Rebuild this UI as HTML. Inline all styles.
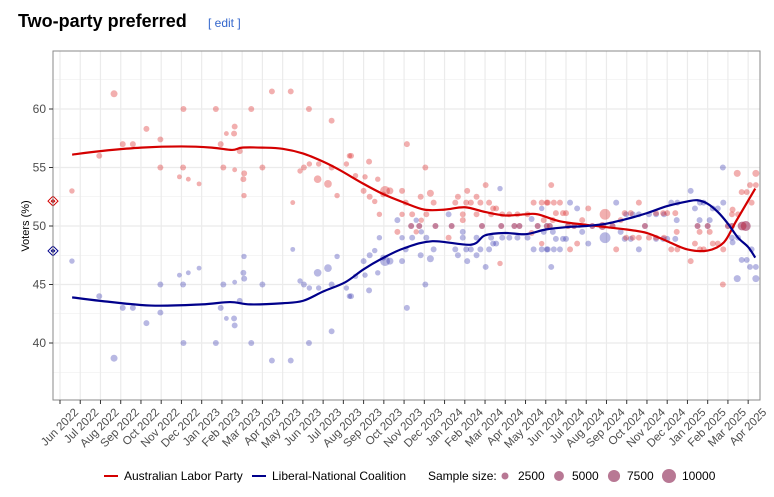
<!DOCTYPE html>
<html><head><meta charset="utf-8"><style>
body{margin:0;background:#fff;font-family:"Liberation Sans",sans-serif;}
#wrap{position:relative;width:774px;height:497px;overflow:hidden}
</style></head><body>
<div id="wrap">
<svg id="chart" width="774" height="497" xmlns="http://www.w3.org/2000/svg">
<text x="18" y="27" font-size="18" font-weight="bold" fill="#000" font-family="Liberation Sans, sans-serif">Two-party preferred</text>
<text x="208" y="27" font-size="12" fill="#3366cc" font-family="Liberation Sans, sans-serif">[ edit ]</text>
<g id="grid"></g>
<g id="pts"></g>
<g id="lines"></g>
<rect x="53" y="51" width="707" height="349" fill="none" stroke="#8a8a8a" stroke-width="1"/>
<g id="axes"></g>
<text transform="translate(29,226) rotate(-90)" text-anchor="middle" font-size="11" fill="#000">Voters (%)</text>
<g id="legend"></g>
</svg>
</div>
<script>
const months=["Jun 2022","Jul 2022","Aug 2022","Sep 2022","Oct 2022","Nov 2022","Dec 2022","Jan 2023","Feb 2023","Mar 2023","Apr 2023","May 2023","Jun 2023","Jul 2023","Aug 2023","Sep 2023","Oct 2023","Nov 2023","Dec 2023","Jan 2024","Feb 2024","Mar 2024","Apr 2024","May 2024","Jun 2024","Jul 2024","Aug 2024","Sep 2024","Oct 2024","Nov 2024","Dec 2024","Jan 2025","Feb 2025","Mar 2025","Apr 2025"];
const yTicks=[40,45,50,55,60];
const pollMonth=[0.59,2.67,1.94,3.1,3.6,4.27,4.96,4.96,6.1,6.08,5.9,6.34,6.87,7.7,7.94,8.07,8.22,8.63,8.6,8.63,8.88,9.1,9.06,9.09,9.45,10.0,10.47,11.4,11.5,12.3,11.86,12.05,12.32,12.78,12.73,13.24,13.42,13.42,13.69,14.15,14.3,
14.38,15.27,14.6,15.07,15.7,15.0,15.3,15.55,15.78,16.06,16.3,15.97,17.14,16.9,17.08,16.9,16.67,17.4,17.82,18.05,17.85,17.6,18.3,18.46,18.1,19.2,19.66,19.53,19.9,19.9,20.12,20.07,20.3,20.77,20.58,21.03,20.58,21.2,21.4,21.55,21.3,21.85,22.2,22.6,23.1,21.74,23.4,23.8,24.1,24.4,24.7,23.9,24.35,24.27,24.05,23.8,23.3,
17.35,17.75,18.55,19.35,20.85,21.8,22.45,22.7,23.6,24.05,24.2,
24.5,24.85,25.0,25.2,25.55,25.8,26.1,26.93,27.48,27.7,27.97,28.3,28.6,28.6,28.2,27.9,29.1,29.45,29.84,29.45,29.8,30.0,30.4,30.2,30.5,30.47,31.16,31.37,31.6,32.1,31.62,31.8,32.25,32.5,32.77,32.75,33.23,33.2,33.88,33.46,33.68,33.93,34.09,34.38,34.38,34.17,33.5,33.2,
25.1,25.4,26.3,26.8,27.3,28.9,31.5,32.0,33.0,33.7];
const pollALP=[53,61.3,56,57,57,58.3,57.4,55,60,55,54.2,54,53.6,60,57,55,57.9,58.5,57.9,54.8,56.4,54.5,54,52.6,60,55,61.5,61.5,52,60,54.7,55,55.3,55.3,54,53.6,59,55,52.6,55.3,56,
56,55.5,54.3,54.2,54,53,52.5,52.1,51,53,53,52.7,57,53,52,51,49.5,51,52.5,55,50.5,49.5,52.8,52,51,49,52.5,52,51,50.5,53,52,52,52,52.5,53.5,51,52,51.5,51.5,51,51,51,51,51,46.8,52,52,52,52,52,50.5,50.5,53.5,52,48.5,49.4,
50,50,50,50,50,50,50,50,50,50,50,
51.1,51.1,51.1,48,48.5,50.5,51.5,51,48,50.5,49,49,49,52,51.1,51.1,49,49,49,51.1,51.1,51.1,51.1,48,48,49.5,47,48.5,49.5,49.5,48,48,48.5,48.5,48,45,51.4,50,50,54.5,52.9,52.9,53.5,53.5,54.5,52,51,51,
50,50,50,50,50,50,50,50,50,50];
const pollSize=[1500,2500,1800,1800,1800,1800,1800,1800,1800,1800,1200,1200,1200,1800,1800,1800,1200,1800,1800,1200,1800,1800,1800,1500,1800,1800,1800,1800,1200,1800,1500,1800,1500,1500,3000,3000,1800,1800,1500,1500,1500,
1800,1800,1500,1500,1500,1800,1800,1500,1500,5000,2500,1800,1800,1800,1800,1500,1800,1800,1800,1800,1500,1500,2500,1800,1800,1800,1800,1800,1800,1800,1800,1800,1800,1800,1800,1800,1800,1800,1800,1800,1800,1800,1800,1800,1800,1500,1800,1800,1800,1800,1800,1800,1800,1800,1800,1500,1800,
1800,1800,1800,1800,1800,1800,1800,1800,1800,1800,1800,
1800,1800,1800,1800,1800,1800,1800,6000,1800,1800,1800,1800,1800,1800,1800,1800,1800,1800,1800,1800,1800,1800,1800,1800,1800,1800,1800,1800,1800,1800,1800,1800,1800,1800,1800,1800,1800,1800,5000,2500,1800,1800,1800,1800,2500,1800,1800,1800,
1800,1800,1800,3000,1800,1800,1800,1800,1800,4000];
const trendMonth=[0.6,2,4,6,7.5,8.5,9,10,11,12,13,13.8,15,16,17,18,19,20,21,22,23,23.6,24.7,26,27,28,29,30,31,32,32.8,33.4,34.35];
const trendALP=[56.1,56.4,56.7,56.8,56.7,56.5,56.7,56.7,56.6,56.2,55.5,54.8,53.6,52.7,52.0,51.4,51.4,51.6,51.2,50.9,51.0,51.0,50.4,50.1,49.9,49.7,49.4,48.7,48.0,47.9,48.6,50.4,53.2];
const trendMonthLNP=[0.6,2,4.5,7,8.4,9.4,11,12,13,14.1,15,16,17,18.4,20.3,21,22,23,24,25,26,27,28,29,30,31,31.5,32,32.5,33,33.5,34,34.35];
const trendLNP=[43.9,43.6,43.2,43.3,43.5,43.3,43.4,43.6,44.4,45.2,46.3,47.3,48.1,48.7,48.4,49.2,49.4,49.3,49.7,49.9,50.0,50.2,50.6,51.1,51.7,52.1,52.2,51.9,51.2,50.2,49.0,48.2,47.3];
const electionALP=52.13, electionLNP=47.87;

const X0=53,X1=760,Y0=51,Y1=400;
const xs=m=>60+m*20.24;
const ys=v=>226-(v-50)*11.7;
const NS="http://www.w3.org/2000/svg";
function mk(parent,tag,attrs){const e=document.createElementNS(NS,tag);for(const k in attrs)e.setAttribute(k,attrs[k]);parent.appendChild(e);return e;}
const grid=document.getElementById('grid'),axes=document.getElementById('axes'),pts=document.getElementById('pts'),lines=document.getElementById('lines'),legend=document.getElementById('legend');
for(let v=37.5;v<=62.5;v+=2.5){const g=mk(grid,'line',{x1:X0,x2:X1,y1:ys(v),y2:ys(v),stroke:'#ebebeb','stroke-width':(v%5===0)?1.2:0.6});

}
months.forEach((lab,i)=>{const x=xs(i);
const g=mk(grid,'line',{x1:x,x2:x,y1:Y0,y2:Y1,stroke:'#ebebeb','stroke-width':1.2});


const t=mk(axes,'line',{x1:x,x2:x,y1:Y1,y2:Y1+4,stroke:'#333','stroke-width':1});


const tx=mk(axes,'text',{x:0,y:0,transform:`translate(${x+19},${Y1+13}) rotate(-45)`,'text-anchor':'end','font-size':11.5,fill:'#4d4d4d'});
tx.textContent=lab;

});
yTicks.forEach(v=>{const y=ys(v);
const t=mk(axes,'line',{x1:X0-4,x2:X0,y1:y,y2:y,stroke:'#333','stroke-width':1});


const tx=mk(axes,'text',{x:X0-7,y:y+4,'text-anchor':'end','font-size':12,fill:'#4d4d4d'});
tx.textContent=v;

});
const rad=n=>3.5*Math.sqrt(n/2500);
pollMonth.forEach((m,i)=>{const c=mk(pts,'circle',{cx:xs(m),cy:ys(100-pollALP[i]),r:rad(pollSize[i]),fill:'rgba(40,40,170,0.33)'});

});
pollMonth.forEach((m,i)=>{const c=mk(pts,'circle',{cx:xs(m),cy:ys(pollALP[i]),r:rad(pollSize[i]),fill:'rgba(220,45,45,0.38)'});

});
function spline(mx,vals){const p=mx.map((m,i)=>[xs(m),ys(vals[i])]);let d=`M${p[0][0]},${p[0][1]}`;
for(let i=0;i<p.length-1;i++){const p0=p[i-1]||p[i],p1=p[i],p2=p[i+1],p3=p[i+2]||p2;
d+=` C${p1[0]+(p2[0]-p0[0])/6},${p1[1]+(p2[1]-p0[1])/6} ${p2[0]-(p3[0]-p1[0])/6},${p2[1]-(p3[1]-p1[1])/6} ${p2[0]},${p2[1]}`;}return d;}
const lr=mk(lines,'path',{d:spline(trendMonth,trendALP),fill:'none',stroke:'#d40000','stroke-width':2.2});


const lb=mk(lines,'path',{d:spline(trendMonthLNP,trendLNP),fill:'none',stroke:'#00008b','stroke-width':2.2});


[[electionALP,'#d40000','alp-election-marker'],[electionLNP,'#00008b','lnp-election-marker']].forEach(([v,col,nm])=>{const y=ys(v);
const o=mk(lines,'path',{d:`M${X0-5},${y} L${X0},${y-5} L${X0+5},${y} L${X0},${y+5}Z`,fill:'#fff',stroke:col,'stroke-width':1});


const i2=mk(lines,'path',{d:`M${X0-2.5},${y} L${X0},${y-2.5} L${X0+2.5},${y} L${X0},${y+2.5}Z`,fill:col});

});
// legend
const LY=476;
function ltext(x,s,nm){const t=mk(legend,'text',{x:x,y:LY+4,'font-size':12,fill:'#000'});t.textContent=s;

}
const l1=mk(legend,'line',{x1:104,x2:118,y1:LY,y2:LY,stroke:'#d40000','stroke-width':2});


ltext(124,'Australian Labor Party','legend-alp-label');
const l2=mk(legend,'line',{x1:252,x2:266,y1:LY,y2:LY,stroke:'#00008b','stroke-width':2});


ltext(272,'Liberal-National Coalition','legend-lnp-label');
ltext(428,'Sample size:','legend-sample-size-title');
const sizeKeys=[2500,5000,7500,10000];const sizeX=[505,559,614,669];
sizeKeys.forEach((n,i)=>{const c=mk(legend,'circle',{cx:sizeX[i],cy:LY,r:rad(n),fill:'#b87894'});


ltext(sizeX[i]+13,String(n),'legend-size-label');});
</script>
</body></html>
